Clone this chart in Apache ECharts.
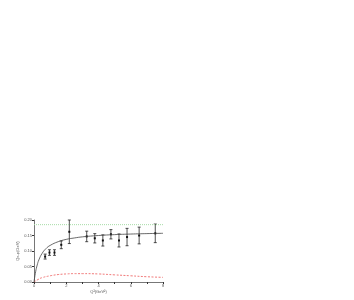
<!DOCTYPE html>
<html><head><meta charset="utf-8">
<script src="https://cdn.jsdelivr.net/npm/echarts@6/dist/echarts.min.js"></script>
<style>html,body{margin:0;padding:0;background:#fff}#c{width:354px;height:300px}</style>
</head><body><div id="c"></div>
<script>
// Data points with error bars
const pointX = [0.69, 0.96, 1.27, 1.69, 2.19, 3.27, 3.77, 4.27, 4.77, 5.27, 5.77, 6.52, 7.52];
const pointY = [0.082, 0.095, 0.095, 0.120, 0.162, 0.147, 0.141, 0.134, 0.154, 0.134, 0.145, 0.150, 0.157];
const pointErr = [0.008, 0.009, 0.009, 0.0125, 0.038, 0.017, 0.015, 0.018, 0.015, 0.021, 0.028, 0.027, 0.030];
// Solid fit curve
const curveX = [0, 0.1, 0.2, 0.3, 0.5, 0.75, 1, 1.5, 2, 2.5, 3, 4, 5, 6, 7, 8];
const curveY = [0, 0.033, 0.055, 0.071, 0.092, 0.108, 0.118, 0.130, 0.1375, 0.142, 0.1456, 0.150, 0.1528, 0.1547, 0.1561, 0.1571];
// Red dashed curve
const redX = [0, 0.25, 0.5, 1, 1.5, 2, 2.5, 3, 4, 5, 6, 7, 8];
const redY = [0, 0.008, 0.014, 0.020, 0.024, 0.026, 0.027, 0.027, 0.026, 0.023, 0.020, 0.017, 0.015];
// Green dotted level
const greenX = [0, 8];
const greenY = [0.185, 0.185];
const yTicks = [0, 0.05, 0.10, 0.15, 0.20];
const xLabel = 'Q²(GeV²)';
const yLabel = 'Qε₂p(GeV)';

const zip = (a, b) => a.map((v, i) => [v, b[i]]);
const chart = echarts.init(document.getElementById('c'));
const axisText = { fontSize: 4, color: '#555', fontFamily: 'Liberation Sans' };
chart.setOption({
  animation: false,
  grid: { left: 34, right: 191, top: 220, bottom: 18, containLabel: false },
  xAxis: {
    type: 'value', min: 0, max: 8, interval: 1,
    name: xLabel, nameLocation: 'middle', nameGap: 8,
    nameTextStyle: { fontSize: 4, color: '#555' },
    axisLine: { lineStyle: { color: '#777', width: 1 } },
    axisTick: { length: 2, lineStyle: { color: '#333' } },
    axisLabel: Object.assign({ margin: 2, formatter: v => (v % 2 === 0 ? String(v) : '') }, axisText),
    splitLine: { show: false }
  },
  yAxis: {
    type: 'value', min: 0, max: 0.2, interval: 0.05,
    name: yLabel, nameLocation: 'middle', nameGap: 14, nameRotate: 90,
    nameTextStyle: { fontSize: 4, color: '#555' },
    axisLine: { show: true, lineStyle: { color: '#777', width: 1 } },
    axisTick: { show: true, length: 2, lineStyle: { color: '#333' } },
    axisLabel: Object.assign({ margin: 2, formatter: v => yTicks.indexOf(Math.round(v * 100) / 100) >= 0 ? v.toFixed(2) : '' }, axisText),
    splitLine: { show: false }
  },
  series: [
    { type: 'line', data: zip(greenX, greenY), symbol: 'none',
      lineStyle: { color: '#a6dca6', width: 1, type: [1, 1] } },
    { type: 'line', data: zip(redX, redY), symbol: 'none', smooth: true,
      lineStyle: { color: '#ee6a6a', width: 0.9, type: [2, 1.5] } },
    { type: 'line', data: zip(curveX, curveY), symbol: 'none', smooth: true,
      lineStyle: { color: '#444', width: 0.8 } },
    { type: 'custom', data: pointX.map((x, i) => [x, pointY[i], pointErr[i]]),
      renderItem: function (params, api) {
        const x = api.value(0), y = api.value(1), e = api.value(2);
        const top = api.coord([x, y + e]);
        const bot = api.coord([x, y - e]);
        const c = api.coord([x, y]);
        const st = { stroke: '#222', lineWidth: 0.8 };
        return { type: 'group', children: [
          { type: 'line', shape: { x1: top[0], y1: top[1], x2: bot[0], y2: bot[1] }, style: st },
          { type: 'line', shape: { x1: top[0] - 1.5, y1: top[1], x2: top[0] + 1.5, y2: top[1] }, style: st },
          { type: 'line', shape: { x1: bot[0] - 1.5, y1: bot[1], x2: bot[0] + 1.5, y2: bot[1] }, style: st },
          { type: 'rect', shape: { x: c[0] - 1, y: c[1] - 1, width: 2, height: 2 }, style: { fill: '#111' } }
        ] };
      }
    }
  ]
});
</script></body></html>
